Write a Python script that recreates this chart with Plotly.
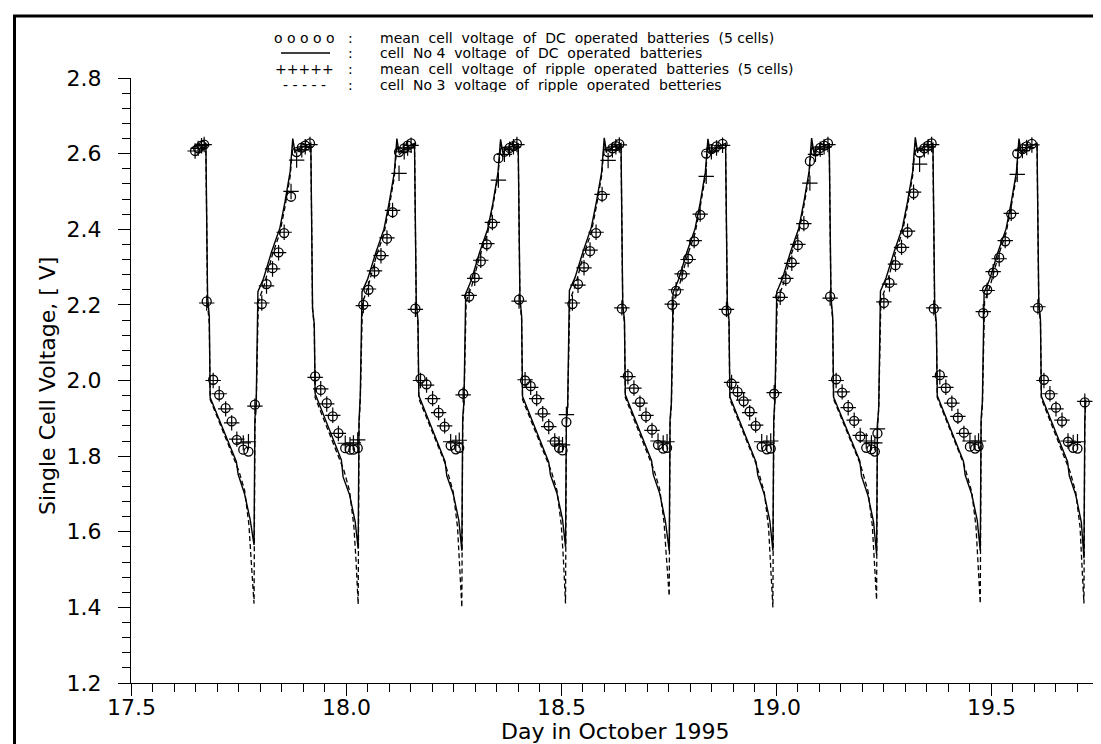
import plotly.graph_objects as go

# ---------------- data ----------------
# cell No 4 voltage of DC operated batteries (solid line)
dc_cell4_day = [
    17.668,
    17.674, 17.678, 17.682, 17.684, 17.713, 17.734, 17.745, 17.749, 17.764, 17.777, 17.786, 17.788, 17.791, 17.795, 17.808, 17.827, 17.846, 17.858, 17.870, 17.876, 17.881, 17.894,
    17.918, 17.922, 17.926, 17.928, 17.957, 17.978, 17.989, 17.993, 18.008, 18.021, 18.028, 18.030, 18.033, 18.037, 18.050, 18.069, 18.088, 18.100, 18.112, 18.118, 18.123, 18.136,
    18.159, 18.163, 18.167, 18.169, 18.198, 18.219, 18.230, 18.234, 18.249, 18.262, 18.269, 18.271, 18.274, 18.278, 18.291, 18.310, 18.329, 18.341, 18.353, 18.359, 18.364, 18.377,
    18.400, 18.404, 18.408, 18.410, 18.439, 18.460, 18.471, 18.475, 18.490, 18.503, 18.510, 18.512, 18.515, 18.519, 18.532, 18.551, 18.570, 18.582, 18.594, 18.600, 18.605, 18.618,
    18.639, 18.643, 18.647, 18.649, 18.678, 18.699, 18.710, 18.714, 18.729, 18.742, 18.751, 18.753, 18.756, 18.760, 18.773, 18.792, 18.811, 18.823, 18.835, 18.841, 18.846, 18.859,
    18.882, 18.886, 18.890, 18.892, 18.921, 18.942, 18.953, 18.957, 18.972, 18.985, 18.992, 18.994, 18.997, 19.001, 19.014, 19.033, 19.052, 19.064, 19.076, 19.082, 19.087, 19.100,
    19.123, 19.127, 19.131, 19.133, 19.162, 19.183, 19.194, 19.198, 19.213, 19.226, 19.233, 19.235, 19.238, 19.242, 19.255, 19.274, 19.293, 19.305, 19.317, 19.323, 19.328, 19.341,
    19.364, 19.368, 19.372, 19.374, 19.403, 19.424, 19.435, 19.439, 19.454, 19.467, 19.474, 19.476, 19.479, 19.483, 19.496, 19.515, 19.534, 19.546, 19.558, 19.564, 19.569, 19.582,
    19.606, 19.610, 19.614, 19.616, 19.645, 19.666, 19.677, 19.681, 19.696, 19.709, 19.715, 19.717, 19.719,
]
dc_cell4_volt = [
    2.620,
    2.628, 2.22, 2.17, 1.955, 1.875, 1.815, 1.785, 1.752, 1.700, 1.632, 1.565, 1.900, 1.938, 2.235, 2.270, 2.341, 2.403, 2.473, 2.553, 2.640, 2.605, 2.615,
    2.627, 2.19, 2.15, 1.965, 1.880, 1.818, 1.790, 1.745, 1.698, 1.627, 1.555, 1.892, 1.962, 2.235, 2.268, 2.338, 2.400, 2.470, 2.550, 2.640, 2.603, 2.614,
    2.627, 2.21, 2.16, 1.960, 1.878, 1.816, 1.786, 1.748, 1.700, 1.630, 1.550, 1.900, 1.945, 2.230, 2.265, 2.338, 2.400, 2.468, 2.550, 2.638, 2.604, 2.615,
    2.626, 2.22, 2.17, 1.958, 1.876, 1.814, 1.784, 1.750, 1.702, 1.633, 1.560, 1.895, 1.935, 2.238, 2.272, 2.342, 2.405, 2.474, 2.552, 2.642, 2.606, 2.616,
    2.627, 2.20, 2.16, 1.962, 1.879, 1.817, 1.788, 1.751, 1.701, 1.629, 1.550, 1.898, 1.940, 2.232, 2.268, 2.339, 2.401, 2.470, 2.551, 2.639, 2.604, 2.615,
    2.627, 2.21, 2.16, 1.957, 1.874, 1.813, 1.784, 1.749, 1.699, 1.628, 1.550, 1.895, 1.960, 2.234, 2.269, 2.340, 2.402, 2.472, 2.552, 2.641, 2.605, 2.615,
    2.626, 2.22, 2.17, 1.956, 1.877, 1.816, 1.787, 1.747, 1.696, 1.626, 1.540, 1.880, 1.930, 2.236, 2.271, 2.341, 2.404, 2.473, 2.553, 2.643, 2.606, 2.616,
    2.627, 2.20, 2.15, 1.960, 1.878, 1.815, 1.786, 1.750, 1.700, 1.630, 1.550, 1.900, 1.945, 2.233, 2.268, 2.339, 2.401, 2.471, 2.551, 2.640, 2.604, 2.615,
    2.627, 2.21, 2.16, 1.958, 1.876, 1.814, 1.785, 1.748, 1.697, 1.625, 1.530, 1.900, 1.950,
]

# cell No 3 voltage of ripple operated batteries (dashed line)
rp_cell3_day = [
    17.668,
    17.674, 17.678, 17.682, 17.684, 17.713, 17.734, 17.745, 17.751, 17.764, 17.774, 17.779, 17.786, 17.788, 17.791, 17.796, 17.809, 17.828, 17.846, 17.858, 17.870, 17.876, 17.882, 17.894,
    17.918, 17.922, 17.926, 17.928, 17.957, 17.978, 17.989, 17.995, 18.008, 18.018, 18.023, 18.028, 18.030, 18.033, 18.038, 18.051, 18.070, 18.088, 18.100, 18.112, 18.118, 18.124, 18.136,
    18.159, 18.163, 18.167, 18.169, 18.198, 18.219, 18.230, 18.236, 18.249, 18.259, 18.264, 18.269, 18.271, 18.274, 18.279, 18.292, 18.311, 18.329, 18.341, 18.353, 18.359, 18.365, 18.377,
    18.400, 18.404, 18.408, 18.410, 18.439, 18.460, 18.471, 18.477, 18.490, 18.500, 18.505, 18.510, 18.512, 18.515, 18.520, 18.533, 18.552, 18.570, 18.582, 18.594, 18.600, 18.606, 18.618,
    18.639, 18.643, 18.647, 18.649, 18.678, 18.699, 18.710, 18.716, 18.729, 18.739, 18.744, 18.751, 18.753, 18.756, 18.761, 18.774, 18.793, 18.811, 18.823, 18.835, 18.841, 18.847, 18.859,
    18.882, 18.886, 18.890, 18.892, 18.921, 18.942, 18.953, 18.959, 18.972, 18.982, 18.987, 18.992, 18.994, 18.997, 19.002, 19.015, 19.034, 19.052, 19.064, 19.076, 19.082, 19.088, 19.100,
    19.123, 19.127, 19.131, 19.133, 19.162, 19.183, 19.194, 19.200, 19.213, 19.223, 19.228, 19.233, 19.235, 19.238, 19.243, 19.256, 19.275, 19.293, 19.305, 19.317, 19.323, 19.329, 19.341,
    19.364, 19.368, 19.372, 19.374, 19.403, 19.424, 19.435, 19.441, 19.454, 19.464, 19.469, 19.474, 19.476, 19.479, 19.484, 19.497, 19.516, 19.534, 19.546, 19.558, 19.564, 19.570, 19.582,
    19.606, 19.610, 19.614, 19.616, 19.645, 19.666, 19.677, 19.683, 19.696, 19.706, 19.710, 19.715, 19.717, 19.719,
]
rp_cell3_volt = [
    2.615,
    2.620, 2.20, 2.15, 1.950, 1.870, 1.810, 1.780, 1.760, 1.710, 1.620, 1.530, 1.410, 1.880, 1.930, 2.210, 2.250, 2.330, 2.390, 2.460, 2.540, 2.625, 2.600, 2.610,
    2.620, 2.19, 2.14, 1.955, 1.872, 1.812, 1.782, 1.762, 1.708, 1.615, 1.525, 1.408, 1.880, 1.950, 2.205, 2.248, 2.328, 2.388, 2.458, 2.538, 2.622, 2.598, 2.610,
    2.620, 2.20, 2.15, 1.952, 1.871, 1.811, 1.781, 1.758, 1.705, 1.612, 1.520, 1.400, 1.885, 1.940, 2.208, 2.250, 2.330, 2.390, 2.460, 2.540, 2.624, 2.600, 2.610,
    2.620, 2.21, 2.16, 1.950, 1.870, 1.810, 1.780, 1.760, 1.710, 1.620, 1.530, 1.410, 1.880, 1.930, 2.212, 2.252, 2.332, 2.392, 2.462, 2.542, 2.625, 2.601, 2.611,
    2.620, 2.20, 2.15, 1.955, 1.873, 1.812, 1.783, 1.762, 1.712, 1.625, 1.540, 1.430, 1.885, 1.935, 2.208, 2.249, 2.329, 2.389, 2.459, 2.539, 2.623, 2.599, 2.610,
    2.620, 2.20, 2.15, 1.950, 1.869, 1.809, 1.779, 1.757, 1.704, 1.610, 1.518, 1.400, 1.885, 1.950, 2.210, 2.251, 2.331, 2.391, 2.461, 2.541, 2.624, 2.600, 2.610,
    2.620, 2.21, 2.16, 1.951, 1.872, 1.811, 1.782, 1.760, 1.708, 1.618, 1.530, 1.420, 1.875, 1.925, 2.211, 2.252, 2.332, 2.392, 2.462, 2.542, 2.626, 2.601, 2.611,
    2.620, 2.19, 2.14, 1.955, 1.873, 1.810, 1.781, 1.759, 1.706, 1.615, 1.525, 1.410, 1.885, 1.935, 2.209, 2.250, 2.330, 2.390, 2.460, 2.540, 2.624, 2.600, 2.610,
    2.620, 2.20, 2.15, 1.952, 1.870, 1.809, 1.780, 1.758, 1.704, 1.612, 1.520, 1.410, 1.880, 1.945,
]

# mean cell voltage of DC operated batteries (5 cells) -- circles
dc_mean_day = [
    17.649, 17.656, 17.664, 17.670,
    17.676, 17.691, 17.705, 17.720, 17.734, 17.746, 17.761, 17.773, 17.788,
    17.804, 17.815, 17.829, 17.843, 17.856, 17.872, 17.885, 17.897, 17.905, 17.916,
    17.928, 17.941, 17.955, 17.969, 17.982, 17.998, 18.009, 18.017, 18.027,
    18.040, 18.052, 18.066, 18.081, 18.095, 18.108, 18.123, 18.135, 18.143, 18.151,
    18.161, 18.173, 18.187, 18.201, 18.215, 18.229, 18.243, 18.255, 18.263, 18.272,
    18.286, 18.299, 18.313, 18.327, 18.340, 18.354, 18.368, 18.380, 18.389, 18.397,
    18.402, 18.416, 18.429, 18.443, 18.457, 18.471, 18.485, 18.495, 18.503, 18.512,
    18.526, 18.539, 18.553, 18.567, 18.581, 18.595, 18.609, 18.619, 18.627, 18.635,
    18.641, 18.655, 18.669, 18.683, 18.697, 18.711, 18.725, 18.737, 18.746,
    18.758, 18.767, 18.781, 18.795, 18.809, 18.823, 18.837, 18.849, 18.861, 18.875,
    18.884, 18.896, 18.910, 18.924, 18.938, 18.952, 18.966, 18.978, 18.987, 18.995,
    19.009, 19.022, 19.036, 19.050, 19.064, 19.078, 19.091, 19.102, 19.111, 19.120,
    19.125, 19.139, 19.153, 19.167, 19.181, 19.195, 19.209, 19.221, 19.229, 19.235,
    19.250, 19.263, 19.277, 19.291, 19.305, 19.319, 19.333, 19.344, 19.353, 19.361,
    19.366, 19.380, 19.394, 19.408, 19.422, 19.436, 19.450, 19.462, 19.470,
    19.481, 19.490, 19.504, 19.518, 19.532, 19.546, 19.560, 19.572, 19.582, 19.594,
    19.608, 19.622, 19.636, 19.650, 19.664, 19.678, 19.690, 19.700, 19.717,
]
dc_mean_volt = [
    2.607, 2.614, 2.621, 2.624,
    2.209, 2.002, 1.962, 1.927, 1.892, 1.843, 1.817, 1.812, 1.936,
    2.202, 2.255, 2.297, 2.339, 2.390, 2.486, 2.604, 2.616, 2.621, 2.627,
    2.011, 1.975, 1.940, 1.905, 1.861, 1.821, 1.817, 1.817, 1.821,
    2.200, 2.240, 2.288, 2.331, 2.375, 2.445, 2.604, 2.614, 2.621, 2.627,
    2.190, 2.005, 1.990, 1.950, 1.915, 1.878, 1.828, 1.818, 1.822, 1.965,
    2.222, 2.272, 2.315, 2.360, 2.415, 2.588, 2.605, 2.615, 2.620, 2.626,
    2.214, 2.000, 1.985, 1.950, 1.915, 1.880, 1.838, 1.822, 1.815, 1.890,
    2.202, 2.255, 2.300, 2.342, 2.390, 2.488, 2.604, 2.614, 2.620, 2.625,
    2.190, 2.012, 1.978, 1.943, 1.905, 1.870, 1.830, 1.820, 1.822,
    2.200, 2.237, 2.280, 2.322, 2.368, 2.438, 2.600, 2.612, 2.619, 2.626,
    2.185, 1.992, 1.970, 1.945, 1.918, 1.880, 1.825, 1.818, 1.820, 1.965,
    2.222, 2.268, 2.312, 2.358, 2.412, 2.580, 2.606, 2.615, 2.621, 2.627,
    2.222, 2.003, 1.968, 1.930, 1.893, 1.852, 1.822, 1.818, 1.812, 1.860,
    2.205, 2.258, 2.305, 2.350, 2.392, 2.495, 2.603, 2.614, 2.621, 2.627,
    2.190, 2.014, 1.980, 1.942, 1.902, 1.862, 1.825, 1.820, 1.826,
    2.178, 2.240, 2.285, 2.325, 2.368, 2.440, 2.600, 2.612, 2.619, 2.626,
    2.192, 2.002, 1.962, 1.928, 1.892, 1.838, 1.822, 1.820, 1.942,
]

# mean cell voltage of ripple operated batteries (5 cells) -- plus signs
rp_mean_day = list(dc_mean_day)
rp_mean_volt = [
    2.607, 2.614, 2.621, 2.624,
    2.205, 2.000, 1.965, 1.925, 1.888, 1.845, 1.835, 1.838, 1.932,
    2.205, 2.250, 2.295, 2.338, 2.392, 2.500, 2.583, 2.610, 2.618, 2.624,
    2.008, 1.978, 1.938, 1.908, 1.860, 1.834, 1.830, 1.835, 1.843,
    2.198, 2.242, 2.290, 2.330, 2.377, 2.450, 2.548, 2.605, 2.615, 2.622,
    2.188, 2.000, 1.988, 1.952, 1.915, 1.880, 1.838, 1.835, 1.842, 1.962,
    2.225, 2.270, 2.318, 2.362, 2.418, 2.530, 2.598, 2.612, 2.618, 2.624,
    2.210, 2.002, 1.982, 1.952, 1.912, 1.878, 1.840, 1.832, 1.830, 1.910,
    2.205, 2.252, 2.298, 2.345, 2.392, 2.492, 2.582, 2.610, 2.618, 2.623,
    2.192, 2.010, 1.980, 1.940, 1.908, 1.868, 1.840, 1.835, 1.838,
    2.202, 2.240, 2.282, 2.320, 2.370, 2.440, 2.540, 2.605, 2.615, 2.622,
    2.188, 1.995, 1.968, 1.948, 1.915, 1.882, 1.838, 1.835, 1.840, 1.968,
    2.220, 2.270, 2.310, 2.360, 2.415, 2.522, 2.598, 2.612, 2.618, 2.624,
    2.218, 2.000, 1.970, 1.928, 1.895, 1.855, 1.840, 1.835, 1.835, 1.872,
    2.208, 2.255, 2.308, 2.352, 2.395, 2.498, 2.572, 2.610, 2.618, 2.624,
    2.192, 2.010, 1.982, 1.940, 1.905, 1.860, 1.840, 1.835, 1.840,
    2.182, 2.238, 2.288, 2.322, 2.370, 2.442, 2.545, 2.608, 2.616, 2.623,
    2.195, 2.000, 1.965, 1.925, 1.895, 1.840, 1.836, 1.838, 1.945,
]

x_tick_values = [17.5, 18.0, 18.5, 19.0, 19.5]
x_tick_labels = ["17.5", "18.0", "18.5", "19.0", "19.5"]

legend_symbols = ["o o o o o", "", "+++++", "- - - - -"]
legend_texts = [
    "mean  cell  voltage  of  DC  operated  batteries  (5 cells)",
    "cell  No 4  voltage  of  DC  operated  batteries",
    "mean  cell  voltage  of  ripple  operated  batteries  (5 cells)",
    "cell  No 3  voltage  of  ripple  operated  betteries",
]

x_title = "Day in October 1995"
y_title = "Single Cell Voltage, [ V]"

# ---------------- figure ----------------
FONT = "DejaVu Sans"
W, H = 1101, 744
ML, MR, MT, MB = 123, 10, 70, 69
PW, PH = W - ML - MR, H - MT - MB


def px_x(px):
    return (px - ML) / PW


def px_y(py):
    return (H - MB - py) / PH


fig = go.Figure()

fig.add_trace(go.Scatter(
    x=rp_cell3_day, y=rp_cell3_volt, mode="lines",
    line=dict(color="black", width=1.3, dash="5px,3px"),
    showlegend=False, hoverinfo="skip"))
fig.add_trace(go.Scatter(
    x=dc_cell4_day, y=dc_cell4_volt, mode="lines",
    line=dict(color="black", width=1.4),
    showlegend=False, hoverinfo="skip"))
fig.add_trace(go.Scatter(
    x=dc_mean_day, y=dc_mean_volt, mode="markers",
    marker=dict(symbol="circle-open", size=9, color="black", line=dict(width=1.3, color="black")),
    showlegend=False))
fig.add_trace(go.Scatter(
    x=rp_mean_day, y=rp_mean_volt, mode="markers",
    marker=dict(symbol="cross-thin", size=11, color="black", line=dict(width=1.2, color="black")),
    showlegend=False))

axis_common = dict(
    showgrid=False, zeroline=False, showline=True, linecolor="black", linewidth=1.3,
    ticks="outside", ticklen=12, tickwidth=1.3, tickcolor="black",
    tickfont=dict(family=FONT, size=22, color="black"), tickformat=".1f",
)

fig.update_layout(
    width=W, height=H,
    margin=dict(l=ML, r=MR, t=MT, b=MB, pad=0),
    paper_bgcolor="white", plot_bgcolor="white",
    font=dict(family=FONT, color="black"),
    xaxis=dict(range=[17.5, 19.75], tickmode="array", tickvals=x_tick_values,
               showticklabels=False,
               minor=dict(dtick=0.05, tick0=17.5, ticks="outside", ticklen=8, tickwidth=1.3, tickcolor="black"),
               **axis_common),
    yaxis=dict(range=[1.2, 2.8], tick0=1.2, dtick=0.2,
               minor=dict(dtick=0.04, tick0=1.2, ticks="outside", ticklen=8, tickwidth=1.3, tickcolor="black"),
               ticklabelstandoff=12, **axis_common),
    showlegend=False,
)

annotations = [
    dict(text=x_title, x=0.5, y=px_y(723), xref="paper", yref="paper", xanchor="center", yanchor="middle",
         showarrow=False, font=dict(family=FONT, size=22, color="black")),
    dict(text=y_title, x=px_x(40), y=px_y(378), xref="paper", yref="paper", xanchor="center", yanchor="middle",
         textangle=-90, showarrow=False, font=dict(family=FONT, size=22, color="black")),
]
# x tick labels, placed at their axis values
for tv, tl in zip(x_tick_values, x_tick_labels):
    annotations.append(dict(text=tl, x=tv, xref="x", y=px_y(699), yref="paper",
                            xanchor="center", yanchor="middle", showarrow=False, height=22,
                            font=dict(family=FONT, size=22, color="black")))

legend_rows_y = [29.5, 45, 60.5, 76]
LEG_FONT = dict(family=FONT, size=14, color="black")
for sym, txt, ry in zip(legend_symbols, legend_texts, legend_rows_y):
    if sym:
        annotations.append(dict(text=sym, x=px_x(296.5), y=px_y(ry), xref="paper", yref="paper",
                                xanchor="center", yanchor="middle", showarrow=False, height=15,
                                font=LEG_FONT))
    annotations.append(dict(text=":", x=px_x(342), y=px_y(ry), xref="paper", yref="paper",
                            xanchor="center", yanchor="middle", showarrow=False, height=15,
                            font=LEG_FONT))
    annotations.append(dict(text=txt, x=px_x(370), y=px_y(ry), xref="paper", yref="paper",
                            xanchor="left", yanchor="middle", showarrow=False, height=15,
                            font=LEG_FONT))
fig.update_layout(annotations=annotations)

shapes = [
    # solid line symbol of the legend
    dict(type="line", xref="paper", yref="paper", x0=px_x(273), x1=px_x(322),
         y0=px_y(45), y1=px_y(45), line=dict(color="black", width=1.3)),
    # outer frame (top and left edges)
    dict(type="line", xref="paper", yref="paper", x0=px_x(5), x1=px_x(1101),
         y0=px_y(8), y1=px_y(8), line=dict(color="black", width=3)),
    dict(type="line", xref="paper", yref="paper", x0=px_x(6.5), x1=px_x(6.5),
         y0=px_y(8), y1=px_y(744), line=dict(color="black", width=3)),
]
fig.update_layout(shapes=shapes)

fig.write_html("out.html")
